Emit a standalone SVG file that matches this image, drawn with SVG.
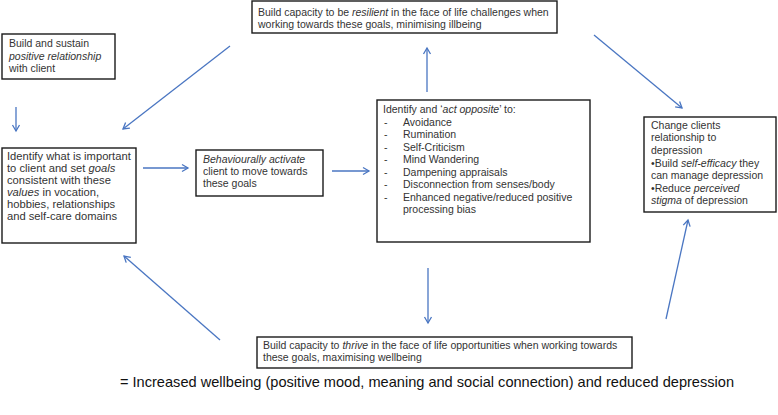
<svg xmlns="http://www.w3.org/2000/svg" width="778" height="415" viewBox="0 0 778 415">
<defs>
<style>
.box{fill:#fff;stroke:#1a1a1a;stroke-width:1.4}
.t{font-family:"Liberation Sans",Arial,sans-serif;font-size:10.5px;fill:#333}
.tl{font-size:11.2px}
.i{font-style:italic}
.c{stroke:#4a76c2;stroke-width:1.3;fill:none}
.big{font-family:"Liberation Sans",Arial,sans-serif;font-size:14.5px;fill:#111}
</style>
<marker id="ah" markerUnits="userSpaceOnUse" markerWidth="10" markerHeight="10" refX="8" refY="5" orient="auto">
<path d="M2,1.5 L8,5 L2,8.5" fill="none" stroke="#4a76c2" stroke-width="1.3"/>
</marker>
</defs>
<rect width="778" height="415" fill="#fff"/>
<g id="connectors">
<line class="c" x1="16" y1="107" x2="16" y2="131" marker-end="url(#ah)"/>
<line class="c" x1="143" y1="168" x2="188" y2="168" marker-end="url(#ah)"/>
<line class="c" x1="332" y1="171" x2="369" y2="171" marker-end="url(#ah)"/>
<line class="c" x1="427" y1="92" x2="427" y2="48" marker-end="url(#ah)"/>
<line class="c" x1="428" y1="268" x2="428" y2="323" marker-end="url(#ah)"/>
<line class="c" x1="230" y1="46" x2="123" y2="129" marker-end="url(#ah)"/>
<line class="c" x1="594" y1="35" x2="682" y2="108" marker-end="url(#ah)"/>
<line class="c" x1="220" y1="340" x2="124" y2="256" marker-end="url(#ah)"/>
<line class="c" x1="666" y1="319" x2="688" y2="220" marker-end="url(#ah)"/>
</g>
<g id="n1">
<rect class="box" x="2" y="34" width="113" height="45"/>
<text class="t" x="9" y="47">Build and sustain</text>
<text class="t i" x="9" y="60">positive relationship</text>
<text class="t" x="9" y="72">with client</text>
</g>
<g id="n2">
<rect class="box" x="252" y="1" width="305" height="32"/>
<text class="t" x="258" y="16">Build capacity to be <tspan class="i">resilient</tspan> in the face of life challenges when</text>
<text class="t" x="258" y="28">working towards these goals, minimising illbeing</text>
</g>
<g id="n3">
<rect class="box" x="2" y="148" width="134" height="95"/>
<text class="t tl" x="7" y="160">Identify what is important</text>
<text class="t tl" x="7" y="172">to client and set <tspan class="i">goals</tspan></text>
<text class="t tl" x="7" y="184">consistent with these</text>
<text class="t tl" x="7" y="196"><tspan class="i">values</tspan> in vocation,</text>
<text class="t tl" x="7" y="208">hobbies, relationships</text>
<text class="t tl" x="7" y="220">and self-care domains</text>
</g>
<g id="n4">
<rect class="box" x="196" y="150" width="127" height="46"/>
<text class="t i" x="203" y="163">Behaviourally activate</text>
<text class="t" x="203" y="175">client to move towards</text>
<text class="t" x="203" y="187">these goals</text>
</g>
<g id="n5">
<rect class="box" x="377" y="100" width="213" height="142"/>
<text class="t" x="383" y="113">Identify and ‘<tspan class="i">act opposite</tspan>’ to:</text>
<g class="t">
<text x="384" y="126">-</text><text x="403" y="126">Avoidance</text>
<text x="384" y="138">-</text><text x="403" y="138">Rumination</text>
<text x="384" y="151">-</text><text x="403" y="151">Self-Criticism</text>
<text x="384" y="163">-</text><text x="403" y="163">Mind Wandering</text>
<text x="384" y="176">-</text><text x="403" y="176">Dampening appraisals</text>
<text x="384" y="188">-</text><text x="403" y="188">Disconnection from senses/body</text>
<text x="384" y="201">-</text><text x="403" y="201">Enhanced negative/reduced positive</text>
<text x="403" y="213">processing bias</text>
</g>
</g>
<g id="n6">
<rect class="box" x="644" y="117" width="132" height="95"/>
<text class="t" x="651" y="129">Change clients</text>
<text class="t" x="651" y="141">relationship to</text>
<text class="t" x="651" y="154">depression</text>
<text class="t" x="651" y="167">•Build <tspan class="i">self-efficacy</tspan> they</text>
<text class="t" x="651" y="179">can manage depression</text>
<text class="t" x="651" y="192">•Reduce <tspan class="i">perceived</tspan></text>
<text class="t" x="651" y="204"><tspan class="i">stigma</tspan> of depression</text>
</g>
<g id="n7">
<rect class="box" x="257" y="337" width="375" height="31"/>
<text class="t" x="263" y="349">Build capacity to <tspan class="i">thrive</tspan> in the face of life opportunities when working towards</text>
<text class="t" x="263" y="361">these goals, maximising wellbeing</text>
</g>
<g id="n8">
<text class="big" x="120" y="387" textLength="614" lengthAdjust="spacingAndGlyphs">= Increased wellbeing (positive mood, meaning and social connection) and reduced depression</text>
</g>
</svg>
